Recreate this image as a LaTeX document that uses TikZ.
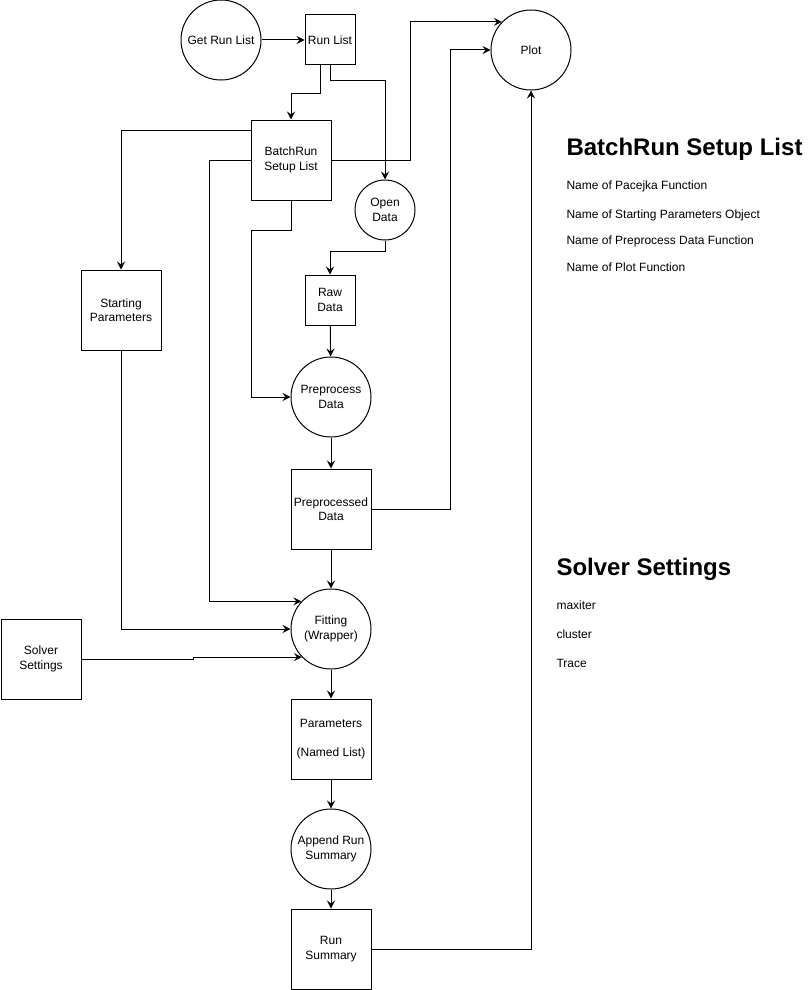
\documentclass[tikz,border=0pt]{standalone}
\usepackage{fontspec}
\setmainfont{Liberation Sans}
\usetikzlibrary{arrows.meta}

\tikzset{
  proc/.style={draw, rectangle, minimum width=80pt, minimum height=80pt, inner sep=1pt, align=center},
  small/.style={proc, minimum width=50pt, minimum height=50pt},
  act/.style={draw, circle, minimum size=80pt, inner sep=1pt, align=center},
  arr/.style={-{Stealth[length=8pt,width=8pt,inset=3pt]}},
  heading/.style={anchor=west, inner sep=0pt, font=\fontsize{24}{28}\selectfont\bfseries},
  item/.style={anchor=west, inner sep=0pt, font=\fontsize{12}{14.4}\selectfont}
}

\begin{document}
\begin{tikzpicture}[x=1pt, y=-1pt, line width=1pt, font=\fontsize{12}{14.4}\selectfont]

  \useasboundingbox (0,0) rectangle (811,990);

  % process chain
  \node[act] (getrun) at (221,40) {Get Run List};
  \node[small] (runlist) at (330,40) {Run List};
  \node[act] (plot) at (531,50) {Plot};
  \node[proc] (batch) at (291,160) {BatchRun\\Setup List};
  \node[act, minimum size=60pt] (opendata) at (385,210) {Open\\Data};
  \node[proc] (startp) at (121,310) {Starting\\Parameters};
  \node[small] (rawdata) at (330,300) {Raw\\Data};
  \node[act] (preproc) at (331,397) {Preprocess\\Data};
  \node[proc] (preprocessed) at (331,509) {Preprocessed\\Data};
  \node[act] (fitting) at (331,629) {Fitting\\(Wrapper)};
  \node[proc] (solver) at (41,659) {Solver\\Settings};
  \node[proc] (params) at (331,739) {Parameters\\[15pt](Named List)};
  \node[act] (append) at (331,849) {Append Run\\Summary};
  \node[proc] (runsum) at (331,949) {Run\\Summary};

  % connectors
  \draw[arr] (getrun) -- (runlist);
  \draw[arr] ([xshift=-10pt]runlist.south) -- ++(0,28) -| (batch.north);
  \draw[arr] (runlist.south) -- ++(0,15) -| (opendata.north);
  \draw[arr] (batch.east) -- ++(79,0) |- (plot.136);
  \draw[arr] (preprocessed.east) -- ++(79,0) |- (plot.west);
  \draw[arr] (runsum.east) -| (plot.south);
  \draw[arr] ([yshift=30pt]batch.west) -| (startp.north);
  \draw[arr] (batch.west) -- ++(-41,0) |- (fitting.137);
  \draw[arr] (batch.south) -- ++(0,30) -- ++(-40,0) |- (preproc.west);
  \draw[arr] (opendata.south) -- ++(0,11) -| (rawdata.north);
  \draw[arr] (rawdata) -- (preproc);
  \draw[arr] (preproc) -- (preprocessed);
  \draw[arr] (preprocessed) -- (fitting);
  \draw[arr] (startp.south) |- (fitting.west);
  \draw[arr] (solver.east) -- ++(112,0) |- (fitting.224);
  \draw[arr] (fitting) -- (params);
  \draw[arr] (params) -- (append);
  \draw[arr] (append) -- (runsum);

  % notes
  \node[heading] (batchtitle) at (566,149) {BatchRun Setup List};
  \node[item] (batchitema) at (566,186) {Name of Pacejka Function};
  \node[item] (batchitemb) at (566,215) {Name of Starting Parameters Object};
  \node[item] (batchitemc) at (566,241) {Name of Preprocess Data Function};
  \node[item] (batchitemd) at (566,267) {Name of Plot Function};

  \node[heading] (solvertitle) at (556,569) {Solver Settings};
  \node[item] (solveritema) at (556,605) {maxiter};
  \node[item] (solveritemb) at (556,634) {cluster};
  \node[item] (solveritemc) at (556,663) {Trace};

\end{tikzpicture}
\end{document}
